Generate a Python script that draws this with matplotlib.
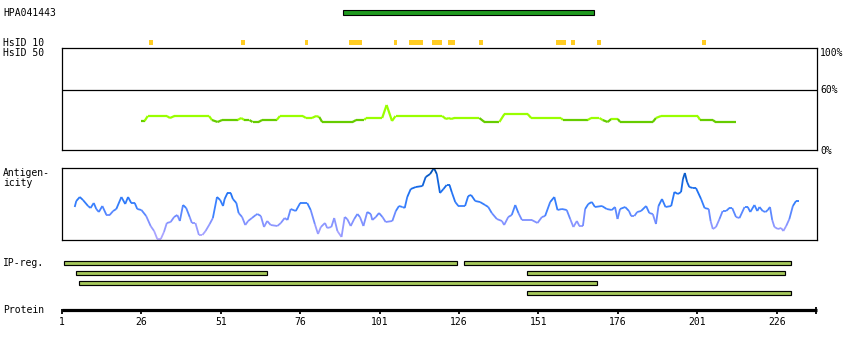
import numpy as np
import matplotlib
matplotlib.use("Agg")
import matplotlib.pyplot as plt
from matplotlib.collections import LineCollection
from matplotlib.colors import LinearSegmentedColormap

# ---- data (residue positions) ----
seq_len = 238.7
tick_res = [1, 26, 51, 76, 101, 126, 151, 176, 201, 226]

hpa_start, hpa_end = 90, 168

hsid10_start = [29, 58, 78, 92, 106, 111, 118, 123, 133, 157, 162, 170, 203]
hsid10_end = [29, 58, 78, 95, 106, 114, 120, 124, 133, 159, 162, 170, 203]

ipreg_row = [0, 0, 1, 1, 2, 3]
ipreg_start = [2, 128, 6, 148, 7, 148]
ipreg_end = [125, 230, 65, 228, 169, 230]

# identity (HsID 50), percent
id_pos = [26, 27, 28, 34, 35, 36.4, 47.3, 48.2, 50, 51.4, 56.3, 57.4, 58.4, 60, 61,
          62.9, 64, 68.6, 69.6, 76.8, 77.8, 79.7, 81, 82, 82.9, 92.5, 93.6, 96.2,
          96.7, 101.8, 103.2, 104.9, 106, 120.7, 121.9, 122.8, 123.5, 124.5, 132.4,
          134, 138.7, 140.3, 147.6, 148.7, 158.1, 158.7, 166.5, 167.6, 170.2, 171.2,
          172.8, 173.9, 176, 176.7, 187, 188, 189.6, 201.1, 201.9, 205.9, 206.7, 213.2]
id_val = [29, 29, 34, 34, 32, 34, 34, 30, 28, 30, 30, 32, 30, 30, 28,
          28, 30, 30, 34, 34, 32, 32, 34, 33, 28, 28, 30, 30,
          32, 32, 45, 29, 34, 34, 31, 32, 31, 32, 32,
          28, 28, 36, 36, 32, 32, 30, 30, 32, 32, 30,
          28, 31, 31, 28, 28, 32, 34, 34, 30, 30, 28, 28]

# antigenicity (arbitrary units)
ag_pos = [5.0, 5.5, 6.6, 7.6, 9.2, 10.0, 11.0, 11.8, 12.6, 13.7,
          15.0, 16.0, 17.1, 18.1, 19.7, 20.9, 21.8, 22.8, 23.9, 24.7,
          26.0, 27.5, 28.9, 30.0, 31.0, 32.1, 33.1, 34.0, 35.2, 36.3,
          37.3, 38.1, 39.1, 40.1, 41.2, 41.9, 43.0, 44.1, 45.2, 46.2,
          47.5, 48.5, 49.8, 50.8, 51.7, 52.2, 53.1, 54.1, 54.8, 55.9,
          56.6, 57.7, 58.7, 59.6, 60.8, 62.0,
          62.5, 63.6, 64.6, 65.6, 66.7, 68.8, 69.9, 71.1, 72.0, 73.0,
          74.6, 76.0, 78.2, 79.3, 80.6, 81.6, 82.5, 83.8, 84.5, 85.8,
          86.7, 87.7, 89.0, 90.0, 90.8, 91.9, 93.0, 94.0, 94.8, 95.9,
          97.1, 98.2, 98.7, 99.8, 100.8, 101.9, 102.9, 105.0, 106.1, 107.1,
          108.2, 108.9, 109.7, 110.8, 112.4, 114.5, 115.5, 116.9, 118.1, 119.0,
          120.0,
          121.1, 122.1, 123.0, 123.7, 124.8, 125.8, 127.9, 128.9, 129.8, 131.1,
          132.6, 134.2, 135.2, 136.3, 137.9, 139.5, 140.2, 141.5, 142.6, 143.7,
          144.7, 145.8, 148.9, 150.7, 152.1, 153.1, 154.7, 156.0, 157.0, 158.4,
          159.9, 161.0, 162.0, 163.1, 163.9, 165.0, 165.7, 166.7, 167.8, 168.8,
          171.0, 172.5, 174.1, 175.1, 175.9, 176.7, 178.3,
          179.5, 180.2, 181.2, 182.1, 183.3, 184.9, 185.9, 187.0, 188.0, 188.8,
          189.9, 191.0, 192.8, 193.8, 194.9, 195.9, 196.5, 197.1, 197.8, 198.5,
          199.6, 200.6, 202.2, 203.3, 204.6, 205.2, 205.9, 206.9, 208.0, 209.0,
          210.1, 211.1, 212.0, 213.2, 214.3, 215.9, 216.9, 217.7, 219.0, 219.9,
          220.6, 221.6, 222.5, 223.2, 223.9, 224.6, 225.3, 226.4, 227.4, 228.1,
          229.0, 230.0, 231.1, 232.1, 232.9]
ag_val = [33, 39, 43, 40, 34, 32, 37, 31, 28, 34,
          25, 25, 29, 31, 43, 36, 43, 37, 37, 31,
          30, 24, 14, 9, 1, 1, 8, 17, 18, 23,
          25, 19, 35, 32, 23, 17, 17, 5, 5, 9,
          16, 22, 43, 40, 34, 41, 47, 47, 41, 37,
          27, 23, 15, 19, 22, 25,
          26, 24, 13, 19, 15, 14, 17, 22, 20, 31,
          29, 37, 37, 30, 16, 6, 13, 17, 12, 13,
          22, 9, 3, 23, 21, 14, 21, 26, 23, 14,
          28, 26, 20, 23, 27, 23, 18, 19, 29, 34,
          33, 32, 43, 51, 53, 54, 63, 66, 72, 66,
          47,
          51, 55, 55, 48, 38, 34, 34, 44, 45, 39,
          38, 35, 33, 27, 21, 19, 15, 23, 25, 35,
          27, 20, 20, 17, 23, 24, 38, 43, 30, 31,
          30, 21, 13, 19, 14, 14, 31, 36, 38, 33,
          34, 31, 30, 33, 21, 31, 33,
          29, 24, 24, 28, 29, 34, 27, 26, 16, 34,
          41, 33, 34, 48, 46, 48, 61, 67, 58, 53,
          52, 52, 41, 32, 31, 19, 11, 13, 21, 29,
          29, 32, 32, 23, 22, 33, 33, 28, 35, 29,
          33, 29, 28, 30, 33, 20, 13, 11, 12, 9,
          14, 21, 34, 39, 39]

# ---- layout helpers (pixel geometry of an 850x350 canvas) ----
W, H = 850, 350
X0, X1 = 62, 817
scale = (X1 - X0) / (seq_len - 1)


def res_at(px):
    return 1 + (px - X0) / scale


def add_px_axes(fig, x0, y0, x1, y1):
    return fig.add_axes([x0 / W, 1 - y1 / H, (x1 - x0) / W, (y1 - y0) / H])


plt.rcParams['font.family'] = ['DejaVu Sans Mono']
fs = 7

fig = plt.figure(figsize=(8.5, 3.5), dpi=100)
fig.patch.set_facecolor('white')

# canvas for labels (pixel coords)
canvas = fig.add_axes([0, 0, 1, 1])
canvas.set_xlim(0, W)
canvas.set_ylim(H, 0)
canvas.axis('off')

# track axes: x in residues, y in pixel rows
track = fig.add_axes([0, 0, 1, 1])
track.set_xlim(res_at(0), res_at(W))
track.set_ylim(H, 0)
track.axis('off')

# HPA antigen bar
track.barh(12.3, hpa_end - hpa_start + 1, left=hpa_start - 0.5, height=4.5,
           color='#1f9a1f', edgecolor='black', linewidth=0.8)

# HsID 10 marks
s = np.array(hsid10_start)
e = np.array(hsid10_end)
track.barh(np.full(len(s), 42.3), e - s + 1.2, left=s - 0.6, height=4.5,
           color='#ffcc22', linewidth=0)

# IP-reg bars
rows = 262.7 + 10 * np.array(ipreg_row)
ps = np.array(ipreg_start)
pe = np.array(ipreg_end)
track.barh(rows, pe - ps + 1, left=ps - 0.5, height=3.9,
           color='#a6c95c', edgecolor='black', linewidth=0.85)

# protein axis
track.plot([1, seq_len], [309.5, 309.5], color='black', lw=2.3, solid_capstyle='butt')
track.vlines(tick_res, 309, 313.5, color='black', lw=1.3)
track.vlines([seq_len - 0.2], 306.5, 313.5, color='black', lw=1.3)
for t in tick_res:
    track.text(t, 322, str(t), fontsize=fs, ha='center', va='center')

# identity panel
ax_id = add_px_axes(fig, X0, 48, X1, 150)
ax_id.set_xlim(1, seq_len)
ax_id.set_ylim(0, 102)
ax_id.set_xticks([])
ax_id.set_yticks([])
for sp in ax_id.spines.values():
    sp.set_linewidth(0.9)
ax_id.axhline(60, color='black', lw=0.9)
pts = np.column_stack([id_pos, id_val])
segs = np.stack([pts[:-1], pts[1:]], axis=1)
mean_v = (np.array(id_val[:-1]) + np.array(id_val[1:])) / 2
seg_cols = ['#99ff00' if v >= 31 else '#66cc00' for v in mean_v]
ax_id.add_collection(LineCollection(segs, colors=seg_cols, linewidths=1.6))

# antigenicity panel
ax_ag = add_px_axes(fig, X0, 168, X1, 240)
ax_ag.set_xlim(1, seq_len)
ax_ag.set_ylim(0, 72)
ax_ag.set_xticks([])
ax_ag.set_yticks([])
for sp in ax_ag.spines.values():
    sp.set_linewidth(0.9)
cmap = LinearSegmentedColormap.from_list(
    'ag', [(0, '#b6aaff'), (0.3, '#7a8eff'), (0.45, '#3d82ff'),
           (0.7, '#1a6ef0'), (1.0, '#0050b0')])
pts = np.column_stack([ag_pos, ag_val])
segs = np.stack([pts[:-1], pts[1:]], axis=1)
mean_v = (np.array(ag_val[:-1]) + np.array(ag_val[1:])) / 2
ax_ag.add_collection(LineCollection(segs, colors=cmap(mean_v / 72), linewidths=1.3))

# labels
left_labels = [('HPA041443', 13), ('HsID 10', 42.5), ('HsID 50', 52.5),
               ('Antigen-', 173), ('icity', 183.5), ('IP-reg.', 263.3), ('Protein', 310)]
for txt, y in left_labels:
    canvas.text(3, y, txt, fontsize=fs, ha='left', va='center')
for txt, y in [('100%', 52.5), ('60%', 90), ('0%', 150.5)]:
    canvas.text(820, y, txt, fontsize=fs, ha='left', va='center')

fig.savefig('out.png', dpi=100)
